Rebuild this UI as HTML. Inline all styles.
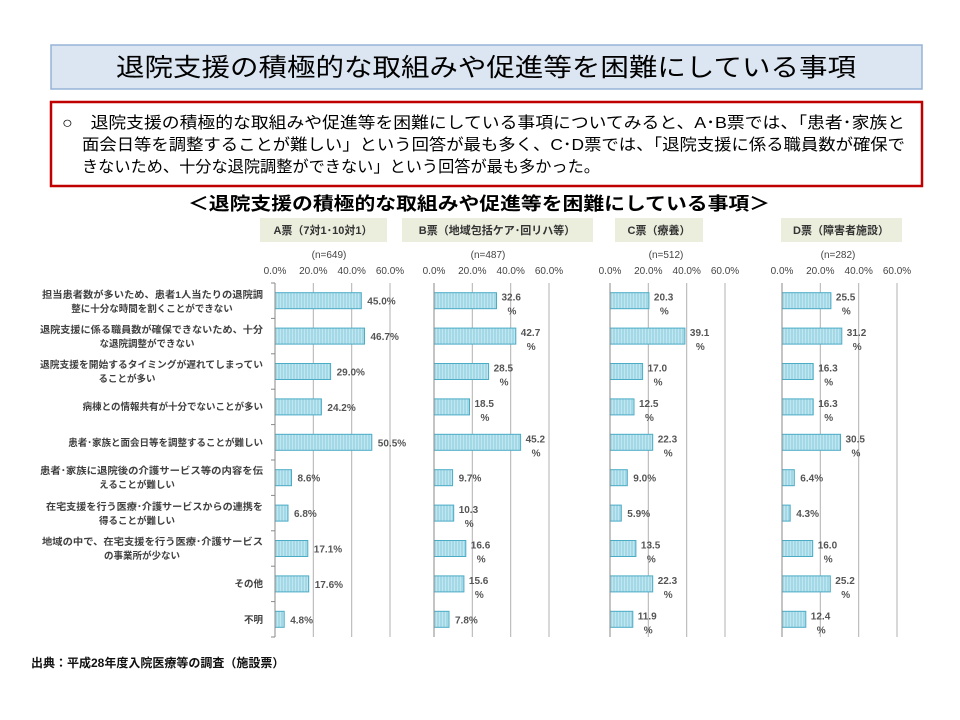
<!DOCTYPE html>
<html><head><meta charset="utf-8"><style>
html,body{margin:0;padding:0;background:#fff;}
svg{display:block;font-family:"Liberation Sans","Noto Sans CJK JP",sans-serif;}
</style></head><body>
<svg width="960" height="720" viewBox="0 0 960 720" xmlns="http://www.w3.org/2000/svg">
<defs>
<pattern id="st" width="3" height="10" patternUnits="userSpaceOnUse">
<rect width="3" height="10" fill="#c9e9f1"/><rect width="2.2" height="10" fill="#a3d8e7"/>
</pattern>
</defs>
<rect x="51" y="45" width="871" height="44" fill="#dce6f2" stroke="#95b3d7" stroke-width="1.5"/>
<text x="486" y="76" font-size="25" text-anchor="middle" fill="#000" textLength="740" lengthAdjust="spacingAndGlyphs">退院支援の積極的な取組みや促進等を困難にしている事項</text>
<rect x="51" y="102" width="871" height="84" fill="#fff" stroke="#c00000" stroke-width="2.5"/>
<g font-size="16" fill="#000">
<text x="62" y="128" textLength="843" lengthAdjust="spacingAndGlyphs">○　退院支援の積極的な取組みや促進等を困難にしている事項についてみると、A･B票では、「患者･家族と</text>
<text x="82" y="150" textLength="823" lengthAdjust="spacingAndGlyphs">面会日等を調整することが難しい」という回答が最も多く、C･D票では、「退院支援に係る職員数が確保で</text>
<text x="82" y="172" textLength="518" lengthAdjust="spacingAndGlyphs">きないため、十分な退院調整ができない」という回答が最も多かった。</text>
</g>
<text x="479" y="210" font-size="18" font-weight="bold" text-anchor="middle" fill="#000" textLength="582" lengthAdjust="spacingAndGlyphs">＜退院支援の積極的な取組みや促進等を困難にしている事項＞</text>

<rect x="260" y="218" width="127" height="24" fill="#ebeedd"/>
<rect x="402" y="218" width="191" height="24" fill="#ebeedd"/>
<rect x="615" y="218" width="88" height="24" fill="#ebeedd"/>
<rect x="781" y="218" width="121" height="24" fill="#ebeedd"/>
<g font-size="11" font-weight="bold" fill="#333" text-anchor="middle">
<text x="323" y="234">A票（7対1･10対1）</text>
<text x="497" y="234">B票（地域包括ケア･回リハ等）</text>
<text x="659" y="234">C票（療養）</text>
<text x="841" y="234">D票（障害者施設）</text>
</g>
<g font-size="10" fill="#444" text-anchor="middle">
<text x="329" y="258">(n=649)</text>
<text x="488" y="258">(n=487)</text>
<text x="666" y="258">(n=512)</text>
<text x="838" y="258">(n=282)</text>
</g>

<g font-size="9.5" font-weight="bold" fill="#404040">
<text x="263" y="298" text-anchor="end" textLength="221" lengthAdjust="spacingAndGlyphs">担当患者数が多いため、患者1人当たりの退院調</text>
<text x="152" y="312" text-anchor="middle">整に十分な時間を割くことができない</text>
<text x="263" y="333" text-anchor="end" textLength="223" lengthAdjust="spacingAndGlyphs">退院支援に係る職員数が確保できないため、十分</text>
<text x="147" y="347" text-anchor="middle">な退院調整ができない</text>
<text x="263" y="368" text-anchor="end" textLength="223" lengthAdjust="spacingAndGlyphs">退院支援を開始するタイミングが遅れてしまってい</text>
<text x="127" y="382" text-anchor="middle">ることが多い</text>
<text x="263" y="410" text-anchor="end">病棟との情報共有が十分でないことが多い</text>
<text x="263" y="446" text-anchor="end">患者･家族と面会日等を調整することが難しい</text>
<text x="263" y="474" text-anchor="end" textLength="223" lengthAdjust="spacingAndGlyphs">患者･家族に退院後の介護サービス等の内容を伝</text>
<text x="137" y="488" text-anchor="middle">えることが難しい</text>
<text x="263" y="510" text-anchor="end" textLength="217" lengthAdjust="spacingAndGlyphs">在宅支援を行う医療･介護サービスからの連携を</text>
<text x="137" y="524" text-anchor="middle">得ることが難しい</text>
<text x="263" y="545" text-anchor="end" textLength="221" lengthAdjust="spacingAndGlyphs">地域の中で、在宅支援を行う医療･介護サービス</text>
<text x="142" y="559" text-anchor="middle">の事業所が少ない</text>
<text x="263" y="587" text-anchor="end">その他</text>
<text x="263" y="623" text-anchor="end">不明</text>
</g>

<g transform="translate(275,0)">
<g stroke="#b0b0b0" stroke-width="1"><line x1="38.3" y1="283" x2="38.3" y2="637"/><line x1="76.7" y1="283" x2="76.7" y2="637"/><line x1="115" y1="283" x2="115" y2="637"/></g>
<g font-size="10" fill="#444" text-anchor="middle"><text x="0" y="274">0.0%</text><text x="38.3" y="274">20.0%</text><text x="76.7" y="274">40.0%</text><text x="115" y="274">60.0%</text></g>
<g fill="url(#st)" stroke="#4bacc6" stroke-width="1">
<rect x="0" y="292.7" width="86.3" height="16"/><rect x="0" y="328.1" width="89.5" height="16"/><rect x="0" y="363.5" width="55.6" height="16"/><rect x="0" y="398.9" width="46.4" height="16"/><rect x="0" y="434.3" width="96.8" height="16"/><rect x="0" y="469.7" width="16.5" height="16"/><rect x="0" y="505.1" width="13.0" height="16"/><rect x="0" y="540.5" width="32.8" height="16"/><rect x="0" y="575.9" width="33.7" height="16"/><rect x="0" y="611.3" width="9.2" height="16"/>
</g>
<g stroke="#888" stroke-width="1"><line x1="0" y1="283" x2="0" y2="637"/>
<line x1="-4" y1="283" x2="0" y2="283"/><line x1="-4" y1="318.4" x2="0" y2="318.4"/><line x1="-4" y1="353.8" x2="0" y2="353.8"/><line x1="-4" y1="389.2" x2="0" y2="389.2"/><line x1="-4" y1="424.6" x2="0" y2="424.6"/><line x1="-4" y1="460" x2="0" y2="460"/><line x1="-4" y1="495.4" x2="0" y2="495.4"/><line x1="-4" y1="530.8" x2="0" y2="530.8"/><line x1="-4" y1="566.2" x2="0" y2="566.2"/><line x1="-4" y1="601.6" x2="0" y2="601.6"/><line x1="-4" y1="637" x2="0" y2="637"/></g>
<g font-size="10" font-weight="bold" fill="#555">
<text x="92.3" y="304.7">45.0%</text><text x="95.5" y="340.1">46.7%</text><text x="61.6" y="375.5">29.0%</text><text x="52.4" y="410.9">24.2%</text><text x="102.8" y="446.3">50.5%</text><text x="22.5" y="481.7">8.6%</text><text x="19" y="517.1">6.8%</text><text x="38.8" y="552.5">17.1%</text><text x="39.7" y="587.9">17.6%</text><text x="15.2" y="623.3">4.8%</text>
</g>
</g>

<g transform="translate(434,0)">
<g stroke="#b0b0b0" stroke-width="1"><line x1="38.3" y1="283" x2="38.3" y2="637"/><line x1="76.7" y1="283" x2="76.7" y2="637"/><line x1="115" y1="283" x2="115" y2="637"/></g>
<g font-size="10" fill="#444" text-anchor="middle"><text x="0" y="274">0.0%</text><text x="38.3" y="274">20.0%</text><text x="76.7" y="274">40.0%</text><text x="115" y="274">60.0%</text></g>
<g fill="url(#st)" stroke="#4bacc6" stroke-width="1">
<rect x="0" y="292.7" width="62.5" height="16"/><rect x="0" y="328.1" width="81.8" height="16"/><rect x="0" y="363.5" width="54.6" height="16"/><rect x="0" y="398.9" width="35.5" height="16"/><rect x="0" y="434.3" width="86.6" height="16"/><rect x="0" y="469.7" width="18.6" height="16"/><rect x="0" y="505.1" width="19.7" height="16"/><rect x="0" y="540.5" width="31.8" height="16"/><rect x="0" y="575.9" width="29.9" height="16"/><rect x="0" y="611.3" width="15.0" height="16"/>
</g>
<g stroke="#888" stroke-width="1"><line x1="0" y1="283" x2="0" y2="637"/></g>
<g font-size="10" font-weight="bold" fill="#555">
<text x="67.5" y="300.7">32.6</text><text x="73.5" y="314.7">%</text>
<text x="86.8" y="336.1">42.7</text><text x="92.8" y="350.1">%</text>
<text x="59.6" y="371.5">28.5</text><text x="65.6" y="385.5">%</text>
<text x="40.5" y="406.9">18.5</text><text x="46.5" y="420.9">%</text>
<text x="91.6" y="442.3">45.2</text><text x="97.6" y="456.3">%</text>
<text x="24.6" y="481.7">9.7%</text>
<text x="24.7" y="513.1">10.3</text><text x="30.7" y="527.1">%</text>
<text x="36.8" y="548.5">16.6</text><text x="42.8" y="562.5">%</text>
<text x="34.9" y="583.9">15.6</text><text x="40.9" y="597.9">%</text>
<text x="21" y="623.3">7.8%</text>
</g>
</g>

<g transform="translate(610,0)">
<g stroke="#b0b0b0" stroke-width="1"><line x1="38.3" y1="283" x2="38.3" y2="637"/><line x1="76.7" y1="283" x2="76.7" y2="637"/><line x1="115" y1="283" x2="115" y2="637"/></g>
<g font-size="10" fill="#444" text-anchor="middle"><text x="0" y="274">0.0%</text><text x="38.3" y="274">20.0%</text><text x="76.7" y="274">40.0%</text><text x="115" y="274">60.0%</text></g>
<g fill="url(#st)" stroke="#4bacc6" stroke-width="1">
<rect x="0" y="292.7" width="38.9" height="16"/><rect x="0" y="328.1" width="74.9" height="16"/><rect x="0" y="363.5" width="32.6" height="16"/><rect x="0" y="398.9" width="24.0" height="16"/><rect x="0" y="434.3" width="42.7" height="16"/><rect x="0" y="469.7" width="17.3" height="16"/><rect x="0" y="505.1" width="11.3" height="16"/><rect x="0" y="540.5" width="25.9" height="16"/><rect x="0" y="575.9" width="42.7" height="16"/><rect x="0" y="611.3" width="22.8" height="16"/>
</g>
<g stroke="#888" stroke-width="1"><line x1="0" y1="283" x2="0" y2="637"/></g>
<g font-size="10" font-weight="bold" fill="#555">
<text x="43.9" y="300.7">20.3</text><text x="49.9" y="314.7">%</text>
<text x="79.9" y="336.1">39.1</text><text x="85.9" y="350.1">%</text>
<text x="37.6" y="371.5">17.0</text><text x="43.6" y="385.5">%</text>
<text x="29" y="406.9">12.5</text><text x="35" y="420.9">%</text>
<text x="47.7" y="442.3">22.3</text><text x="53.7" y="456.3">%</text>
<text x="23.3" y="481.7">9.0%</text>
<text x="17.3" y="517.1">5.9%</text>
<text x="30.9" y="548.5">13.5</text><text x="36.9" y="562.5">%</text>
<text x="47.7" y="583.9">22.3</text><text x="53.7" y="597.9">%</text>
<text x="27.8" y="619.3">11.9</text><text x="33.8" y="633.3">%</text>
</g>
</g>

<g transform="translate(782,0)">
<g stroke="#b0b0b0" stroke-width="1"><line x1="38.3" y1="283" x2="38.3" y2="637"/><line x1="76.7" y1="283" x2="76.7" y2="637"/><line x1="115" y1="283" x2="115" y2="637"/></g>
<g font-size="10" fill="#444" text-anchor="middle"><text x="0" y="274">0.0%</text><text x="38.3" y="274">20.0%</text><text x="76.7" y="274">40.0%</text><text x="115" y="274">60.0%</text></g>
<g fill="url(#st)" stroke="#4bacc6" stroke-width="1">
<rect x="0" y="292.7" width="48.9" height="16"/><rect x="0" y="328.1" width="59.8" height="16"/><rect x="0" y="363.5" width="31.2" height="16"/><rect x="0" y="398.9" width="31.2" height="16"/><rect x="0" y="434.3" width="58.5" height="16"/><rect x="0" y="469.7" width="12.3" height="16"/><rect x="0" y="505.1" width="8.2" height="16"/><rect x="0" y="540.5" width="30.7" height="16"/><rect x="0" y="575.9" width="48.3" height="16"/><rect x="0" y="611.3" width="23.8" height="16"/>
</g>
<g stroke="#888" stroke-width="1"><line x1="0" y1="283" x2="0" y2="637"/></g>
<g font-size="10" font-weight="bold" fill="#555">
<text x="53.9" y="300.7">25.5</text><text x="59.9" y="314.7">%</text>
<text x="64.8" y="336.1">31.2</text><text x="70.8" y="350.1">%</text>
<text x="36.2" y="371.5">16.3</text><text x="42.2" y="385.5">%</text>
<text x="36.2" y="406.9">16.3</text><text x="42.2" y="420.9">%</text>
<text x="63.5" y="442.3">30.5</text><text x="69.5" y="456.3">%</text>
<text x="18.3" y="481.7">6.4%</text>
<text x="14.2" y="517.1">4.3%</text>
<text x="35.7" y="548.5">16.0</text><text x="41.7" y="562.5">%</text>
<text x="53.3" y="583.9">25.2</text><text x="59.3" y="597.9">%</text>
<text x="28.8" y="619.3">12.4</text><text x="34.8" y="633.3">%</text>
</g>
</g>

<text x="31" y="667" font-size="12" font-weight="bold" fill="#111">出典：平成28年度入院医療等の調査（施設票）</text>
</svg>
</body></html>
